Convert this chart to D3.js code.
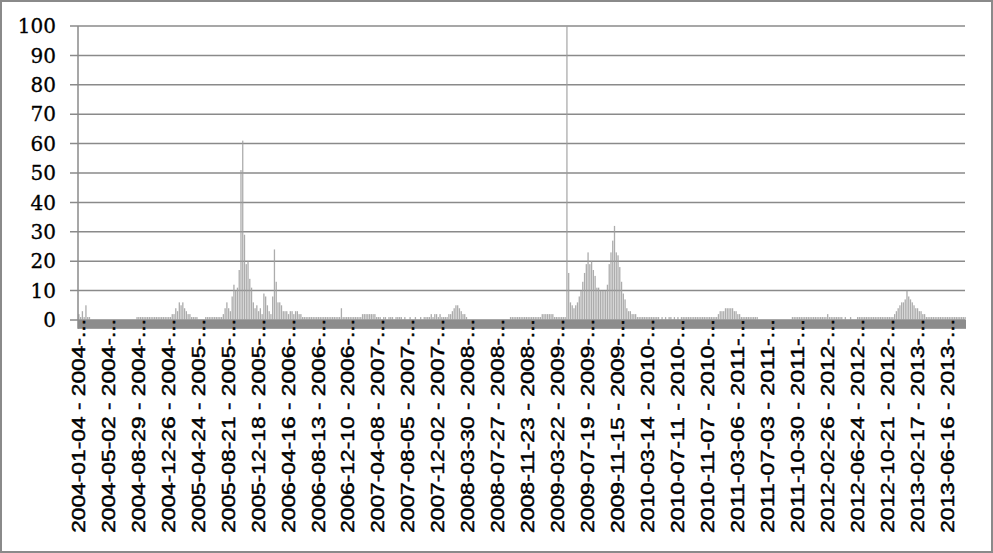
<!DOCTYPE html>
<html><head><meta charset="utf-8">
<script src="https://cdn.jsdelivr.net/npm/d3@7"></script>
<style>body{margin:0;background:#fff}svg{display:block}</style>
</head><body>
<svg id="chart" width="993" height="553"></svg>
<script>
// Weekly values (one array per year, weeks starting 2004-01-04)
const values2004 = [2,1,3,1,5,1,1,0,0,0, 0,0,0,0,0,0,0,0,0,0, 0,0,0,0,0,0,0,0,0,0, 0,0,0,1,1,1,1,1,1,1, 1,1,1,1,1,1,1,1,1,1, 1,1];
const values2005 = [1,2,2,4,3,6,5,6,4,3, 2,2,1,1,1,1,0,0,0,0, 1,1,1,1,1,1,1,1,1,1, 2,4,6,4,3,8,12,10,11,17, 51,61,29,19,20,14,11,6,4,5, 3,4];
const values2006 = [2,9,8,5,3,2,8,24,13,6, 6,5,3,3,3,2,3,3,2,3, 3,2,2,1,1,1,1,1,1,1, 1,1,1,1,1,1,1,1,1,1, 1,1,1,1,1,4,1,1,1,1, 1,1];
const values2007 = [1,1,1,1,1,2,2,2,2,2, 2,2,2,1,1,1,0,1,1,0, 1,1,1,0,1,1,1,1,0,1, 0,0,1,0,0,1,0,0,1,0, 1,1,1,1,2,1,2,2,1,2, 1,1];
const values2008 = [1,1,2,2,3,4,5,5,4,3, 2,2,1,0,0,0,0,0,0,0, 0,0,0,0,0,0,0,0,0,0, 0,0,0,0,0,0,0,1,1,1, 1,1,1,1,1,1,1,1,1,1, 1,1];
const values2009 = [1,1,1,2,2,2,2,2,2,2, 1,1,1,1,1,1,1,100,16,6, 5,4,5,6,8,10,13,16,19,23, 19,20,17,15,11,11,10,10,10,10, 12,19,23,27,32,23,22,18,13,9, 7,4];
const values2010 = [3,3,2,2,2,1,1,1,1,1, 1,1,1,1,1,1,1,1,0,1, 0,1,0,1,1,0,1,0,1,0, 1,1,1,1,1,1,1,1,1,1, 1,1,1,1,1,1,1,1,1,1, 1,2];
const values2011 = [3,3,3,4,4,4,4,4,3,3, 2,2,1,1,1,1,1,1,1,1, 1,1,0,0,0,0,0,0,0,0, 0,0,0,0,0,0,0,0,0,0, 0,1,1,1,1,1,1,1,1,1, 1,1];
const values2012 = [1,1,1,1,1,1,1,1,1,2, 1,1,1,1,1,1,1,1,0,1, 0,0,1,0,0,0,1,1,1,1, 1,1,1,1,1,1,1,1,1,1, 1,1,1,1,1,1,1,2,3,4, 5,6];
const values2013 = [6,7,10,8,7,6,5,4,4,3, 3,2,2,1,1,1,1,1,1,1, 1,1,1,1,1,1,1,1,1,1, 1,1,1,1,1,1];

const tickStarts = ["2004-01-04","2004-05-02","2004-08-29","2004-12-26","2005-04-24","2005-08-21","2005-12-18","2006-04-16","2006-08-13","2006-12-10","2007-04-08","2007-08-05","2007-12-02","2008-03-30","2008-07-27","2008-11-23","2009-03-22","2009-07-19","2009-11-15","2010-03-14","2010-07-11","2010-11-07","2011-03-06","2011-07-03","2011-10-30","2012-02-26","2012-06-24","2012-10-21","2013-02-17","2013-06-16"];
const tickLabels = tickStarts.map(d => d + " - " + d.slice(0,5) + "...");
const tickStep = 17;
const yTicks = [0,10,20,30,40,50,60,70,80,90,100];

const values = [].concat(values2004, values2005, values2006, values2007, values2008,
                         values2009, values2010, values2011, values2012, values2013);
const weeks = values.map((v,i) => i);

const svg = d3.select("#chart");
const W = 993, H = 553;
const plotLeft = 78, plotRight = 966, plotTop = 26, zeroY = 320;

const x = d3.scaleBand().domain(weeks).range([plotLeft, plotRight]).padding(0);
const y = d3.scaleLinear().domain([0,100]).range([zeroY, plotTop]);

// outer frame
svg.append("rect").attr("x",1).attr("y",1).attr("width",W-2).attr("height",H-2)
  .attr("fill","#fff").attr("stroke","#8a8a8a").attr("stroke-width",2);

// gridlines with left ticks
svg.append("g").selectAll("line").data(yTicks).join("line")
  .attr("x1", plotLeft - 8).attr("x2", plotRight - 1)
  .attr("y1", d => y(d)).attr("y2", d => y(d))
  .attr("stroke","#8a8a8a").attr("stroke-width",1.5);

// y labels
svg.append("g").selectAll("text").data(yTicks).join("text")
  .attr("x", 56).attr("y", d => y(d)).attr("dy","0.36em")
  .attr("text-anchor","end")
  .attr("font-family","'DejaVu Serif', serif").attr("font-size",20)
  .attr("fill","#000").attr("stroke","#000").attr("stroke-width",0.3)
  .text(d => d);

// bars
const bw = x.bandwidth();
const barW = 1.3;
svg.append("g").selectAll("rect").data(values).join("rect")
  .attr("x", (d,i) => x(i) + (bw - barW)/2)
  .attr("y", d => y(d))
  .attr("width", barW)
  .attr("height", d => y(0) - y(d))
  .attr("fill","#9e9e9e").attr("opacity",0.85);

// base band below zero
svg.append("rect").attr("x", plotLeft).attr("y", y(0))
  .attr("width", plotRight - plotLeft).attr("height", y(-3) - y(0))
  .attr("fill","#8c8c8c");

// y axis line
svg.append("line").attr("x1",plotLeft).attr("x2",plotLeft)
  .attr("y1", plotTop).attr("y2", y(-3))
  .attr("stroke","#8a8a8a").attr("stroke-width",1.5);

// x labels (stretched along their length)
const labelLen = 214;
const xl = svg.append("g").selectAll("text").data(tickLabels).join("text")
  .attr("text-anchor","end")
  .attr("font-family","'Liberation Sans', Arial, sans-serif").attr("font-size",17.5)
  .attr("fill","#000").attr("stroke","#000").attr("stroke-width",0.45)
  .text(d => d);
xl.each(function(d,k){
  const L = this.getComputedTextLength();
  const s = labelLen / L;
  d3.select(this).attr("transform",
    `translate(${x(k*tickStep) + bw/2 + 6},319) rotate(-90) scale(${s},1)`);
});
</script>
</body></html>
